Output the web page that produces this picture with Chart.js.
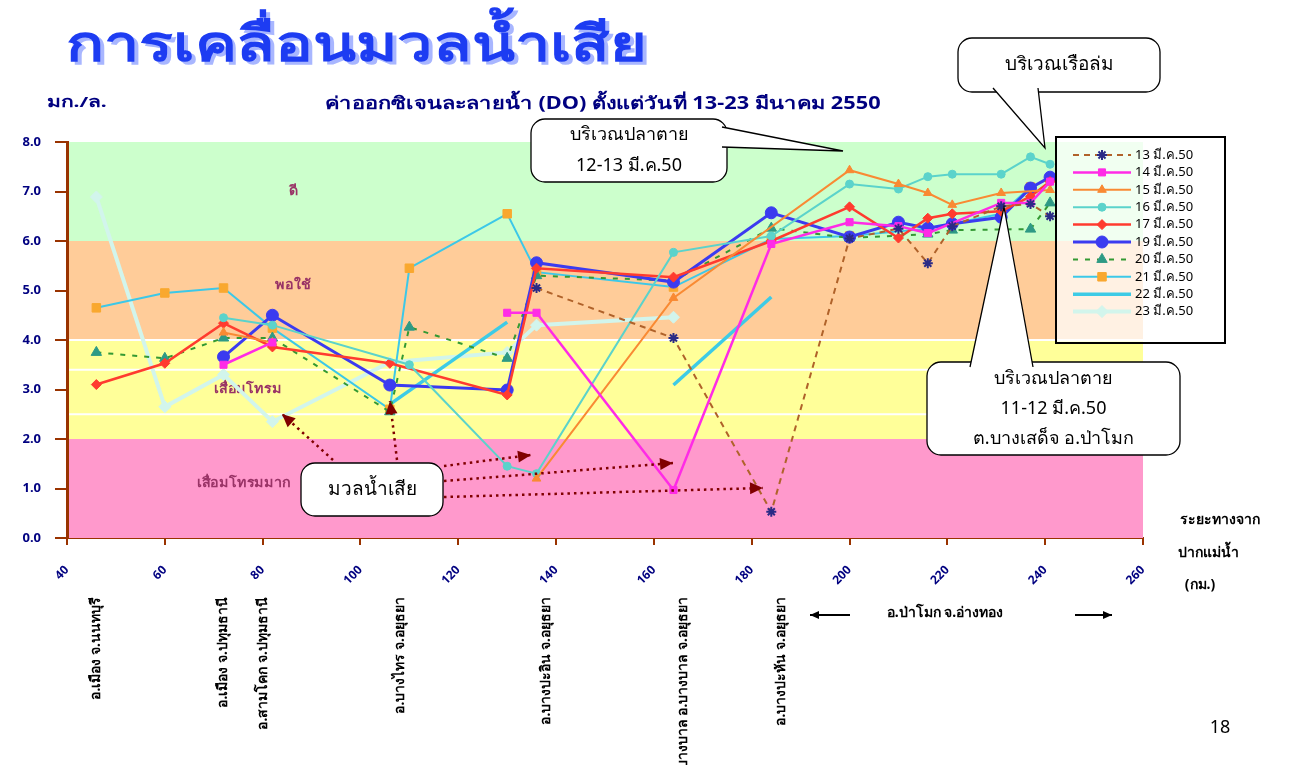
<!DOCTYPE html>
<html lang="th">
<head>
<meta charset="utf-8">
<script src="https://cdn.jsdelivr.net/npm/chart.js@4.4.1/dist/chart.umd.min.js"></script>
<style>
  html, body { margin: 0; padding: 0; background: #fff; }
  #wrap { position: relative; width: 1291px; height: 765px; overflow: hidden; }
  #slideTitle {
    position: absolute; left: 66px; top: 4px; margin: 0; z-index: 2;
    font: 900 50px "Noto Sans", sans-serif; color: #1d3cf2;
    text-shadow: 3px 3px 0 #a8b6ff;
    transform: scaleX(1.26); transform-origin: left top;
  }
  #doChart { position: absolute; left: 0; top: 0; }
</style>
</head>
<body>
<div id="wrap">
  <h1 id="slideTitle">การเคลื่อนมวลน้ำเสีย</h1>
  <canvas id="doChart" width="1291" height="765"></canvas>
</div>
<script>
// ระยะทางจากปากแม่น้ำ (กม.) ของจุดเก็บตัวอย่าง
const stationKm = [46, 60, 72, 82, 106, 110, 130, 136, 164, 184, 200, 210, 216, 221, 231, 237, 241];

// แกน x
const xTickMin = 40;
const xTickMax = 260;
const xTickStep = 20;

// ชื่อชุดข้อมูล (วันที่)
const seriesNames = ['13 มี.ค.50', '14 มี.ค.50', '15 มี.ค.50', '16 มี.ค.50', '17 มี.ค.50',
                     '19 มี.ค.50', '20 มี.ค.50', '21 มี.ค.50', '22 มี.ค.50', '23 มี.ค.50'];

// ค่า DO (มก./ล.) ต่อจุด, null = ไม่มีข้อมูล
const do13 = [null, null, null, null, null, null, null, 5.05, 4.04, 0.53, 6.05, 6.25, 5.55, 6.3, 6.7, 6.75, 6.5];
const do14 = [null, null, 3.5, 3.95, null, null, 4.55, 4.55, 0.97, 5.94, 6.38, 6.3, 6.16, null, 6.77, 6.77, 7.2];
const do15 = [null, null, 4.15, 3.95, null, null, null, 1.2, 4.85, null, 7.43, 7.15, 6.97, 6.73, 6.97, null, 7.03];
const do16 = [null, null, 4.45, 4.3, null, 3.5, 1.45, 1.3, 5.77, 6.1, 7.15, 7.05, 7.3, 7.35, 7.35, 7.7, 7.55];
const do17 = [3.1, 3.53, 4.34, 3.86, 3.53, null, 2.89, 5.45, 5.27, 6.0, 6.69, 6.06, 6.46, 6.55, 6.6, 6.9, 7.2];
const do19 = [null, null, 3.66, 4.5, 3.09, null, 2.99, 5.56, 5.17, 6.57, 6.08, 6.38, 6.26, 6.35, 6.48, 7.07, 7.29];
const do20 = [3.75, 3.63, 4.04, 4.04, 2.55, 4.26, 3.63, 5.3, 5.2, 6.26, 6.06, null, 6.14, 6.22, null, 6.24, 6.77];
const do21 = [4.65, 4.95, 5.05, 4.24, 2.6, 5.45, 6.55, 5.37, 5.07, 6.04, 6.1, null, 6.25, null, 6.55, 7.09, null];
const do22 = [null, null, null, null, 2.7, null, 4.36, null, 3.09, 4.87, null, null, null, null, null, null, null];
const do23 = [6.89, 2.65, 3.3, 2.35, 3.55, null, 3.75, 4.3, 4.46, null, null, null, null, null, null, null, null];

// เส้นขาดช่วงก่อนจุดนี้: ลำดับชุดข้อมูล -> ดัชนีจุดหลังช่วงขาด
const lineBreakBefore = { 1: [6], 2: [7], 8: [8] };

// เกณฑ์คุณภาพน้ำ (แถบสีพื้นหลัง)
const zoneNames = ['ดี', 'พอใช้', 'เสื่อมโทรม', 'เสื่อมโทรมมาก'];
const zoneFrom = [6, 4, 2, 0];
const zoneTo = [8, 6, 4, 2];

// ชื่อสถานที่ใต้แกน x
const placeNames = ['อ.เมือง จ.นนทบุรี', 'อ.เมือง จ.ปทุมธานี', 'อ.สามโคก จ.ปทุมธานี', 'อ.บางไทร จ.อยุธยา',
                    'อ.บางปะอิน จ.อยุธยา', 'ปากคลองบางบาล อ.บางบาล จ.อยุธยา', 'อ.บางปะหัน จ.อยุธยา'];
const placeKm = [46, 72, 80, 108, 138, 166, 186];

const allSeries = [do13, do14, do15, do16, do17, do19, do20, do21, do22, do23];

const styles = [
  { color: '#b0622a', width: 2, dash: [6, 5], point: 'star', radius: 5, pColor: '#2b2b86' },
  { color: '#ff2be6', width: 2.5, dash: [], point: 'rect', radius: 5, pColor: '#ff2be6' },
  { color: '#f98a33', width: 2, dash: [], point: 'triangle', radius: 5, pColor: '#f98a33' },
  { color: '#5bd3cb', width: 2, dash: [], point: 'circle', radius: 4, pColor: '#5bd3cb' },
  { color: '#ff3b2f', width: 2.5, dash: [], point: 'rectRot', radius: 5, pColor: '#ff3b2f' },
  { color: '#3b3bf0', width: 3, dash: [], point: 'circle', radius: 6, pColor: '#3b3bf0' },
  { color: '#339933', width: 2, dash: [5, 7], point: 'triangle', radius: 6, pColor: '#2e9a85' },
  { color: '#3cc8e8', width: 2, dash: [], point: 'rect', radius: 6, pColor: '#f9a82f' },
  { color: '#3dcbe6', width: 3.5, dash: [], point: 'circle', radius: 0, pColor: '#3dcbe6' },
  { color: '#d2f5ec', width: 4, dash: [], point: 'rectRot', radius: 6, pColor: '#d2f5ec' }
];

const zoneColors = ['#ccffcc', '#ffcc99', '#ffff99', '#ff99cc'];
const navy = '#000080';
const brown = '#993300';
const thaiFont = '"Noto Sans", sans-serif';

const datasets = allSeries.map((vals, i) => ({
  label: seriesNames[i],
  data: stationKm.map((km, j) => ({ x: km, y: vals[j] })),
  borderColor: styles[i].color,
  borderWidth: styles[i].width,
  borderDash: styles[i].dash,
  pointStyle: styles[i].point,
  pointRadius: styles[i].radius,
  pointBackgroundColor: styles[i].pColor,
  pointBorderColor: styles[i].pColor,
  pointBorderWidth: styles[i].point === 'star' ? 2 : 1,
  spanGaps: true,
  segment: {
    borderColor: c => (lineBreakBefore[i] || []).includes(c.p1DataIndex) ? 'rgba(0,0,0,0)' : undefined
  },
  tension: 0
}));

// กล่องข้อความอธิบาย
function callout(ctx, x, y, w, h, tail, lines, size, lineGap) {
  ctx.save();
  ctx.fillStyle = '#fff';
  ctx.strokeStyle = '#000';
  ctx.lineWidth = 1.3;
  ctx.beginPath();
  ctx.roundRect(x, y, w, h, 14);
  ctx.fill();
  ctx.stroke();
  if (tail) {
    ctx.beginPath();
    ctx.moveTo(tail[0][0], tail[0][1]);
    ctx.lineTo(tail[1][0], tail[1][1]);
    ctx.lineTo(tail[2][0], tail[2][1]);
    ctx.closePath();
    ctx.fill();
    ctx.beginPath();
    ctx.moveTo(tail[0][0], tail[0][1]);
    ctx.lineTo(tail[1][0], tail[1][1]);
    ctx.lineTo(tail[2][0], tail[2][1]);
    ctx.stroke();
  }
  ctx.fillStyle = '#000';
  ctx.font = size + 'px ' + thaiFont;
  ctx.textAlign = 'center';
  ctx.textBaseline = 'middle';
  const cy = y + h / 2 - (lines.length - 1) * lineGap / 2;
  lines.forEach((t, k) => ctx.fillText(t, x + w / 2, cy + k * lineGap));
  ctx.restore();
}

function dottedArrow(ctx, x1, y1, x2, y2) {
  ctx.save();
  ctx.strokeStyle = '#800000';
  ctx.fillStyle = '#800000';
  ctx.lineWidth = 2.5;
  ctx.setLineDash([2.5, 4]);
  ctx.beginPath();
  ctx.moveTo(x1, y1);
  ctx.lineTo(x2, y2);
  ctx.stroke();
  const a = Math.atan2(y2 - y1, x2 - x1);
  ctx.setLineDash([]);
  ctx.beginPath();
  ctx.moveTo(x2, y2);
  ctx.lineTo(x2 - 13 * Math.cos(a) + 6 * Math.sin(a), y2 - 13 * Math.sin(a) - 6 * Math.cos(a));
  ctx.lineTo(x2 - 13 * Math.cos(a) - 6 * Math.sin(a), y2 - 13 * Math.sin(a) + 6 * Math.cos(a));
  ctx.closePath();
  ctx.fill();
  ctx.restore();
}

// ข้อความแบบบีบ/ขยายแนวนอน
function wideText(ctx, text, x, y, sx) {
  ctx.save();
  ctx.translate(x, y);
  ctx.scale(sx, 1);
  ctx.fillText(text, 0, 0);
  ctx.restore();
}

const decor = {
  id: 'decor',
  beforeDatasetsDraw(chart) {
    const { ctx, chartArea: a, scales: { y } } = chart;
    ctx.save();
    zoneFrom.forEach((lo, i) => {
      ctx.fillStyle = zoneColors[i];
      ctx.fillRect(a.left + 2, y.getPixelForValue(zoneTo[i]), a.right - a.left - 2,
                   y.getPixelForValue(lo) - y.getPixelForValue(zoneTo[i]));
    });
    // เส้นขาวในแถบสีเหลือง
    ctx.strokeStyle = '#fff';
    ctx.lineWidth = 2;
    [4.0, 3.4, 2.5].forEach(v => {
      ctx.beginPath();
      ctx.moveTo(a.left + 2, y.getPixelForValue(v));
      ctx.lineTo(a.right, y.getPixelForValue(v));
      ctx.stroke();
    });
    ctx.fillStyle = '#993366';
    ctx.font = 'bold 13px ' + thaiFont;
    ctx.textAlign = 'center';
    ctx.textBaseline = 'middle';
    const zx = [293, 293, 248, 244];
    const zv = [7.0, 5.1, 3.0, 1.1];
    zoneNames.forEach((n, i) => wideText(ctx, n, zx[i], y.getPixelForValue(zv[i]), 1.1));
    ctx.restore();
  },
  afterDraw(chart) {
    const { ctx, scales: { x } } = chart;
    ctx.save();
    // หัวเรื่องกราฟ
    ctx.fillStyle = navy;
    ctx.font = 'bold 17px ' + thaiFont;
    ctx.textAlign = 'center';
    ctx.textBaseline = 'middle';
    wideText(ctx, 'ค่าออกซิเจนละลายน้ำ (DO) ตั้งแต่วันที่ 13-23 มีนาคม 2550', 603, 104, 1.28);
    ctx.textAlign = 'left';
    ctx.font = 'bold 15px ' + thaiFont;
    wideText(ctx, 'มก./ล.', 47, 103, 1.4);

    // ชื่อแกน x ด้านขวา
    ctx.fillStyle = '#000';
    ctx.font = 'bold 14px ' + thaiFont;
    ctx.textAlign = 'center';
    ctx.fillText('ระยะทางจาก', 1220, 520);
    ctx.fillText('ปากแม่น้ำ', 1208, 553);
    ctx.fillText('(กม.)', 1200, 585);

    // ชื่อสถานที่ (แนวตั้ง)
    ctx.font = 'bold 14px ' + thaiFont;
    placeNames.forEach((n, i) => {
      ctx.save();
      ctx.translate(x.getPixelForValue(placeKm[i]), 597);
      ctx.rotate(-Math.PI / 2);
      ctx.textAlign = 'right';
      ctx.textBaseline = 'middle';
      ctx.fillText(n, 0, 0);
      ctx.restore();
    });
    ctx.fillText('อ.ป่าโมก จ.อ่างทอง', 945, 613);
    ctx.lineWidth = 2;
    ctx.strokeStyle = '#000';
    [[850, 810], [1075, 1112]].forEach(([from, to]) => {
      ctx.beginPath();
      ctx.moveTo(from, 615);
      ctx.lineTo(to, 615);
      ctx.stroke();
      const d = Math.sign(to - from);
      ctx.beginPath();
      ctx.moveTo(to, 615);
      ctx.lineTo(to - 9 * d, 611);
      ctx.lineTo(to - 9 * d, 619);
      ctx.closePath();
      ctx.fill();
    });

    // คำอธิบายสัญลักษณ์
    ctx.fillStyle = 'rgba(255,255,255,0.72)';
    ctx.fillRect(1056, 137, 169, 206);
    ctx.strokeStyle = '#000';
    ctx.lineWidth = 2;
    ctx.strokeRect(1056, 137, 169, 206);
    chart.data.datasets.forEach((ds, i) => {
      const ly = 155 + i * 17.4;
      ctx.save();
      ctx.strokeStyle = ds.borderColor;
      ctx.lineWidth = ds.borderWidth;
      ctx.setLineDash(ds.borderDash);
      ctx.beginPath();
      ctx.moveTo(1073, ly);
      ctx.lineTo(1131, ly);
      ctx.stroke();
      ctx.setLineDash([]);
      if (ds.pointRadius > 0) {
        ctx.fillStyle = ds.pointBackgroundColor;
        ctx.strokeStyle = ds.pointBorderColor;
        ctx.lineWidth = ds.pointBorderWidth;
        Chart.helpers.drawPoint(ctx, { pointStyle: ds.pointStyle, radius: ds.pointRadius, rotation: 0, borderWidth: ds.pointBorderWidth }, 1102, ly);
      }
      ctx.restore();
      ctx.fillStyle = '#000';
      ctx.font = '13px ' + thaiFont;
      ctx.textAlign = 'left';
      ctx.textBaseline = 'middle';
      ctx.fillText(ds.label, 1135, ly);
    });

    // ลูกศรชี้มวลน้ำเสีย
    dottedArrow(ctx, 333, 460, 282, 414);
    dottedArrow(ctx, 397, 460, 390, 401);
    dottedArrow(ctx, 444, 466, 531, 455);
    dottedArrow(ctx, 444, 481, 673, 463);
    dottedArrow(ctx, 444, 497, 763, 488);

    callout(ctx, 301, 463, 142, 53, null, ['มวลน้ำเสีย'], 19, 0);
    callout(ctx, 531, 119, 196, 63, [[722, 127], [843, 151], [722, 147]], ['บริเวณปลาตาย', '12-13 มี.ค.50'], 18, 31);
    callout(ctx, 958, 38, 202, 54, [[993, 88], [1045, 148], [1038, 88]], ['บริเวณเรือล่ม'], 19, 0);
    callout(ctx, 927, 362, 253, 93, [[970, 367], [1004, 207], [1033, 367]],
            ['บริเวณปลาตาย', '11-12 มี.ค.50', 'ต.บางเสด็จ อ.ป่าโมก'], 18, 30);

    ctx.fillStyle = '#000';
    ctx.font = '18px ' + thaiFont;
    ctx.textAlign = 'center';
    ctx.fillText('18', 1220, 728);
    ctx.restore();
  }
};

new Chart(document.getElementById('doChart'), {
  type: 'line',
  data: { datasets },
  plugins: [decor],
  options: {
    responsive: false,
    animation: false,
    layout: { padding: { top: 142, right: 148, left: 0, bottom: 0 } },
    plugins: { legend: { display: false }, tooltip: { enabled: false } },
    scales: {
      x: {
        type: 'linear',
        min: xTickMin,
        max: xTickMax,
        afterFit: s => { s.height = 227; },
        ticks: { stepSize: xTickStep, minRotation: 45, maxRotation: 45, padding: 18,
                 color: navy, font: { family: thaiFont, size: 12, weight: 'bold' } },
        grid: { drawOnChartArea: false, color: brown, tickLength: 7, lineWidth: 2 },
        border: { color: brown, width: 2 }
      },
      y: {
        min: 0,
        max: 8,
        afterFit: s => { s.width = 67; },
        ticks: { stepSize: 1, padding: 14, callback: v => v.toFixed(1),
                 color: navy, font: { family: thaiFont, size: 13, weight: 'bold' } },
        grid: { drawOnChartArea: false, color: brown, tickLength: 12, lineWidth: 2 },
        border: { color: brown, width: 3 }
      }
    }
  }
});
</script>
</body>
</html>
